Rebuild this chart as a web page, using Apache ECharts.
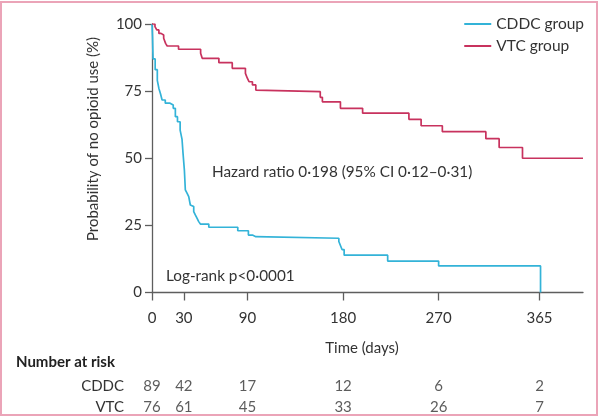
<!DOCTYPE html>
<html>
<head>
<meta charset="utf-8">
<script src="https://cdn.jsdelivr.net/npm/echarts@6/dist/echarts.min.js"></script>
<style>
html,body{margin:0;padding:0;background:#fff;}
#chart{width:600px;height:418px;}
</style>
</head>
<body>
<div id="chart"></div>
<script>
// ---- data ----
var cddcCurve = [[0,100],[0.5,95],[1,87],[3,83],[5,79],[6.5,76],[8,74],[9.5,71.7],[12.5,70.5],[17,69.8],[20,68.6],[22,65.5],[24,63.6],[26.5,60.5],[28.3,57],[29.2,52],[30.5,45.6],[31.4,38.2],[33,37],[34.6,35.7],[36.1,32.6],[37.7,32],[39.3,30.1],[40.8,28.9],[42.5,27.6],[44,26.4],[45.6,25.5],[53.5,24.3],[80.8,23.0],[90.8,21.4],[94.6,20.8],[97.8,20.2],[176,19],[177.5,17.5],[179,16],[181,13.9],[222,11.7],[270,9.9],[366,0]];
var vtcCurve = [[0,100],[2.8,99],[4.5,97.8],[6.5,96.5],[8.5,95.9],[11,94.7],[12.8,92.8],[14.3,91.8],[25,90.6],[45.8,89.1],[47.3,87.2],[63,85.6],[75.6,83.5],[88,81.6],[89.8,79.8],[91.4,78.5],[94.6,77.3],[97.8,75.4],[99.3,74.8],[158.5,72.7],[160.5,71.0],[177.5,68.6],[198.4,66.8],[242,64.5],[253.5,62.1],[273.5,59.9],[314.5,57.3],[327,54],[349,50],[406,50]];
var xTicks = [0,30,90,180,270,365];
var riskGroups = ['CDDC','VTC'];
var riskCDDC = [89,42,17,12,6,2];
var riskVTC = [76,61,45,33,26,7];
var seriesNames = ['CDDC group','VTC group'];

// ---- styles ----
var FONT = 'Lato';
var TXT = '#333333';
var AX = '#5e5e5e';
var CYAN = '#33b3d8';
var RED = '#c8325e';

var riskData = [];
xTicks.forEach(function(t,i){
  riskData.push([t,'CDDC',riskCDDC[i]]);
  riskData.push([t,'VTC',riskVTC[i]]);
});

var chart = echarts.init(document.getElementById('chart'), null, {renderer:'canvas'});
chart.setOption({
  animation:false,
  backgroundColor:'#fff',
  textStyle:{fontFamily:FONT},
  grid:[
    {left:152, top:24, width:431, height:268.5},
    {left:152, top:375.5, width:431, height:49.6}
  ],
  legend:{
    orient:'vertical', right:11, top:11, itemWidth:27, itemHeight:2, itemGap:6,
    icon:'rect',
    textStyle:{fontFamily:FONT,fontSize:15.5,color:TXT,lineHeight:16},
    data:seriesNames
  },
  xAxis:[
    {gridIndex:0, type:'value', min:0, max:406,
     axisLine:{lineStyle:{color:AX,width:1.3}},
     axisTick:{show:true, customValues:xTicks, length:8, lineStyle:{color:AX,width:1.3}},
     axisLabel:{customValues:xTicks, margin:18, fontSize:15, color:TXT, fontFamily:FONT},
     splitLine:{show:false}},
    {gridIndex:1, type:'value', min:0, max:406, show:false}
  ],
  yAxis:[
    {gridIndex:0, type:'value', min:0, max:100, interval:25,
     axisLine:{show:true,lineStyle:{color:AX,width:1.3}},
     axisTick:{show:true,length:7,lineStyle:{color:AX,width:1.3}},
     axisLabel:{margin:10, fontSize:15, color:TXT, fontFamily:FONT},
     splitLine:{show:false}},
    {gridIndex:1, type:'category', data:riskGroups, inverse:true,
     axisLine:{show:false}, axisTick:{show:false},
     axisLabel:{margin:28, fontSize:15, color:TXT, fontFamily:FONT}}
  ],
  series:[
    {name:seriesNames[0], type:'line', step:'end', data:cddcCurve, showSymbol:false,
     lineStyle:{color:CYAN,width:1.7}, itemStyle:{color:CYAN}, xAxisIndex:0, yAxisIndex:0},
    {name:seriesNames[1], type:'line', step:'end', data:vtcCurve, showSymbol:false,
     lineStyle:{color:RED,width:1.7}, itemStyle:{color:RED}, xAxisIndex:0, yAxisIndex:0},
    {name:'risk', type:'scatter', xAxisIndex:1, yAxisIndex:1, symbolSize:0,
     data:riskData,
     label:{show:true, position:'inside', formatter:function(p){return p.value[2];},
            fontSize:15, color:TXT, fontFamily:FONT}}
  ],
  graphic:[
    {type:'rect', shape:{x:1,y:2,width:596,height:413}, style:{fill:'none',stroke:'#eba4b8',lineWidth:2}},
    {type:'text', x:93, y:139, rotation:Math.PI/2,
     style:{text:'Probability of no opioid use (%)', fontFamily:FONT, fontSize:15, fill:TXT, align:'center', verticalAlign:'middle'}},
    {type:'text', x:362, y:348, style:{text:'Time (days)', fontFamily:FONT, fontSize:15, fill:TXT, align:'center', verticalAlign:'middle'}},
    {type:'text', x:16, y:362, style:{text:'Number at risk', fontFamily:FONT, fontSize:15, fontWeight:'bold', fill:'#222', align:'left', verticalAlign:'middle'}},
    {type:'text', x:212, y:172, style:{text:'Hazard ratio 0·198 (95% CI 0·12–0·31)', fontFamily:FONT, fontSize:15.3, fill:TXT, align:'left', verticalAlign:'middle'}},
    {type:'text', x:166, y:276, style:{text:'Log-rank p<0·0001', fontFamily:FONT, fontSize:15.3, fill:TXT, align:'left', verticalAlign:'middle'}}
  ]
});
</script>
</body>
</html>
